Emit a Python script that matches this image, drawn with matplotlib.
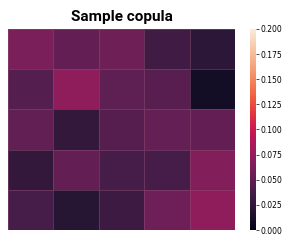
import matplotlib
matplotlib.use("Agg")
import matplotlib.pyplot as plt
import seaborn as sns
import numpy as np

row0 = [0.062, 0.051, 0.056, 0.034, 0.024]
row1 = [0.044, 0.072, 0.049, 0.046, 0.010]
row2 = [0.050, 0.027, 0.045, 0.052, 0.051]
row3 = [0.027, 0.051, 0.037, 0.037, 0.066]
row4 = [0.037, 0.021, 0.032, 0.057, 0.072]
data = np.array([row0, row1, row2, row3, row4])

fig = plt.figure(figsize=(3.0, 2.45), dpi=100)
ax = fig.add_axes([0.027, 0.061, 0.756, 0.821])
cax = fig.add_axes([0.833, 0.061, 0.02, 0.821])
sns.heatmap(data, ax=ax, cbar_ax=cax, cmap="rocket", vmin=0, vmax=0.2,
            xticklabels=False, yticklabels=False,
            linewidths=0.4, linecolor=(0.55, 0.3, 0.45, 0.5))
ax.set_title("Sample copula", fontsize=11, fontweight="bold", pad=6,
             family=["Roboto", "DejaVu Sans"])
cax.tick_params(labelsize=5.5, length=2, width=0.5, pad=1)
cax.set_yticks([0, 0.025, 0.05, 0.075, 0.1, 0.125, 0.15, 0.175, 0.2])
cax.set_yticklabels(["0.000", "0.025", "0.050", "0.075", "0.100", "0.125", "0.150", "0.175", "0.200"])
for s in cax.spines.values():
    s.set_visible(False)
fig.savefig("out.png", dpi=100)
